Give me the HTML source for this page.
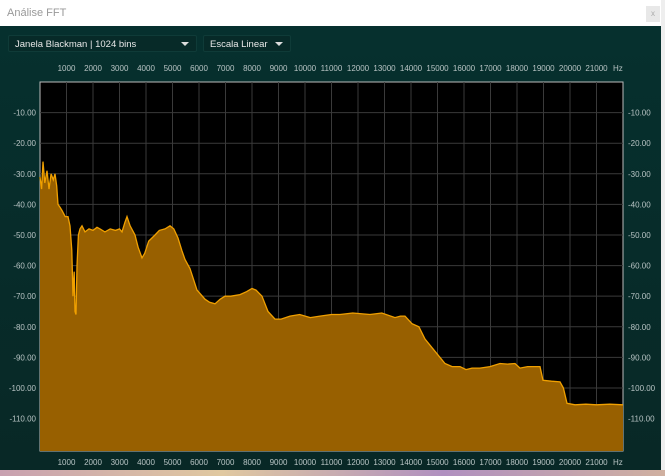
<!DOCTYPE html>
<html><head><meta charset="utf-8"><style>
body{margin:0;width:665px;height:476px;overflow:hidden;background:#fff;font-family:"Liberation Sans",sans-serif;position:relative}
#title{position:absolute;left:0;top:0;width:661px;height:26px;background:#fff;color:#999;font-size:11px;line-height:26px;padding-left:7px;box-sizing:border-box}
#close{position:absolute;left:646px;top:6px;width:14px;height:16px;background:#e8e8e8;color:#aaa;font-size:8px;text-align:center;line-height:16px}
#panel{position:absolute;left:0;top:26px;width:661px;height:444px;background:linear-gradient(#06302e,#082826)}
.dd{position:absolute;top:35px;height:17px;background:#072a28;border:1px solid #0f3b38;border-radius:2px;color:#e8e8e8;font-size:9.5px;line-height:17px;padding-left:6px;box-sizing:border-box}
.dd span{position:absolute;right:7px;top:6px;width:0;height:0;border-left:4px solid transparent;border-right:4px solid transparent;border-top:4px solid #ddd}
#rstrip{position:absolute;left:661px;top:0;width:4px;height:476px;background:#eee}
#bstrip{position:absolute;left:0;top:470px;width:665px;height:6px;background:linear-gradient(90deg,#c8a0b0,#e0c8a0,#b090c0,#d0b0a0)}
</style></head><body>
<div id="title">Análise FFT</div>
<div id="close">x</div>
<div id="rstrip"></div>
<div id="panel"></div>
<div class="dd" style="left:8px;width:189px">Janela Blackman | 1024 bins<span></span></div>
<div class="dd" style="left:203px;width:88px">Escala Linear<span></span></div>
<div id="bstrip"></div>
<svg id="chart" width="665" height="476" style="position:absolute;left:0;top:0"></svg>
<script>
const freqs=[0,60,113,180,264,340,420,500,566,630,679,760,830,950,1057,1132,1200,1245,1290,1321,1360,1396,1450,1509,1585,1700,1850,2000,2150,2264,2450,2650,2850,3000,3094,3200,3283,3400,3585,3700,3849,3950,4100,4340,4500,4717,4906,5050,5208,5350,5472,5660,5925,6226,6400,6604,6800,6981,7200,7547,7800,8000,8150,8377,8604,8868,9100,9434,9800,10200,10566,11000,11321,11800,12453,12900,13396,13600,13774,14038,14300,14528,14906,15283,15550,15849,16075,16302,16600,16981,17358,17650,17925,18113,18400,18868,18981,19300,19623,19750,19887,20189,20600,21000,21500,22000];
const dbs=[-31,-35,-26,-33,-29,-35,-30,-32,-30,-34,-40,-41,-42,-44,-44,-47,-55,-70,-62,-75,-76,-60,-50,-48,-47,-49,-48,-48.5,-47.5,-48,-49,-48,-48.5,-48,-49,-46,-44,-47,-50,-54,-57.5,-56,-52,-50,-48.5,-48,-47,-48,-51,-55,-58,-61,-68,-71,-72,-72.5,-71,-70,-70,-69.5,-68.5,-67.5,-68,-70,-75,-77.5,-77.5,-76.5,-76,-77,-76.5,-76,-76,-75.5,-76,-75.5,-77,-76.5,-76.5,-79,-80,-84,-88,-92,-93,-93,-94,-93.5,-93.5,-93,-92,-92.2,-92,-93.5,-93,-93,-97.5,-97.8,-98,-100,-105,-105.5,-105.3,-105.5,-105.3,-105.5];
const xTicks=[1000,2000,3000,4000,5000,6000,7000,8000,9000,10000,11000,12000,13000,14000,15000,16000,17000,18000,19000,20000,21000];
const yTicks=[-10,-20,-30,-40,-50,-60,-70,-80,-90,-100,-110];
const L=40,R=623,T=82,B=451;
const xS=f=>L+f/22000*(R-L);
const yS=d=>T+(-d)/120.6*(B-T);
const svg=document.getElementById('chart');
const NS='http://www.w3.org/2000/svg';
function mk(t,a){const e=document.createElementNS(NS,t);for(const k in a)e.setAttribute(k,a[k]);svg.appendChild(e);return e;}
const bg=mk('rect',{x:L,y:T,width:R-L,height:B-T,fill:'#000',stroke:'#bbb','stroke-width':1});


xTicks.forEach(f=>{const x=xS(f);
 const g=mk('line',{x1:x,x2:x,y1:T,y2:B,stroke:'#3a3a3a','stroke-width':1});
 
 
 [71,465].forEach(y=>{const t=mk('text',{x:x,y:y,'text-anchor':'middle','font-size':8,fill:'#b8c4c4','font-family':'Liberation Sans, sans-serif'});t.textContent=f;
 
 });
});
yTicks.forEach(d=>{const y=yS(d);
 const g=mk('line',{x1:L,x2:R,y1:y,y2:y,stroke:'#3a3a3a','stroke-width':1});
 
 
 const t1=mk('text',{x:36,y:y+3,'text-anchor':'end','font-size':8,fill:'#b8c4c4','font-family':'Liberation Sans, sans-serif'});t1.textContent=d.toFixed(2);
 
 
 const t2=mk('text',{x:628,y:y+3,'font-size':8,fill:'#b8c4c4','font-family':'Liberation Sans, sans-serif'});t2.textContent=d.toFixed(2);
 
 
});
['Hz'].forEach(h=>{[71,465].forEach(y=>{const t=mk('text',{x:613,y:y,'font-size':8,fill:'#b8c4c4','font-family':'Liberation Sans, sans-serif'});t.textContent=h;
 
 });});
let pts=freqs.map((f,i)=>xS(f).toFixed(1)+','+yS(dbs[i]).toFixed(1));
const area=mk('polygon',{points:xS(0)+','+B+' '+pts.join(' ')+' '+xS(22000)+','+B,fill:'#986000'});


const line=mk('polyline',{points:pts.join(' '),fill:'none',stroke:'#f0a000','stroke-width':1.3});


</script>
</body></html>
